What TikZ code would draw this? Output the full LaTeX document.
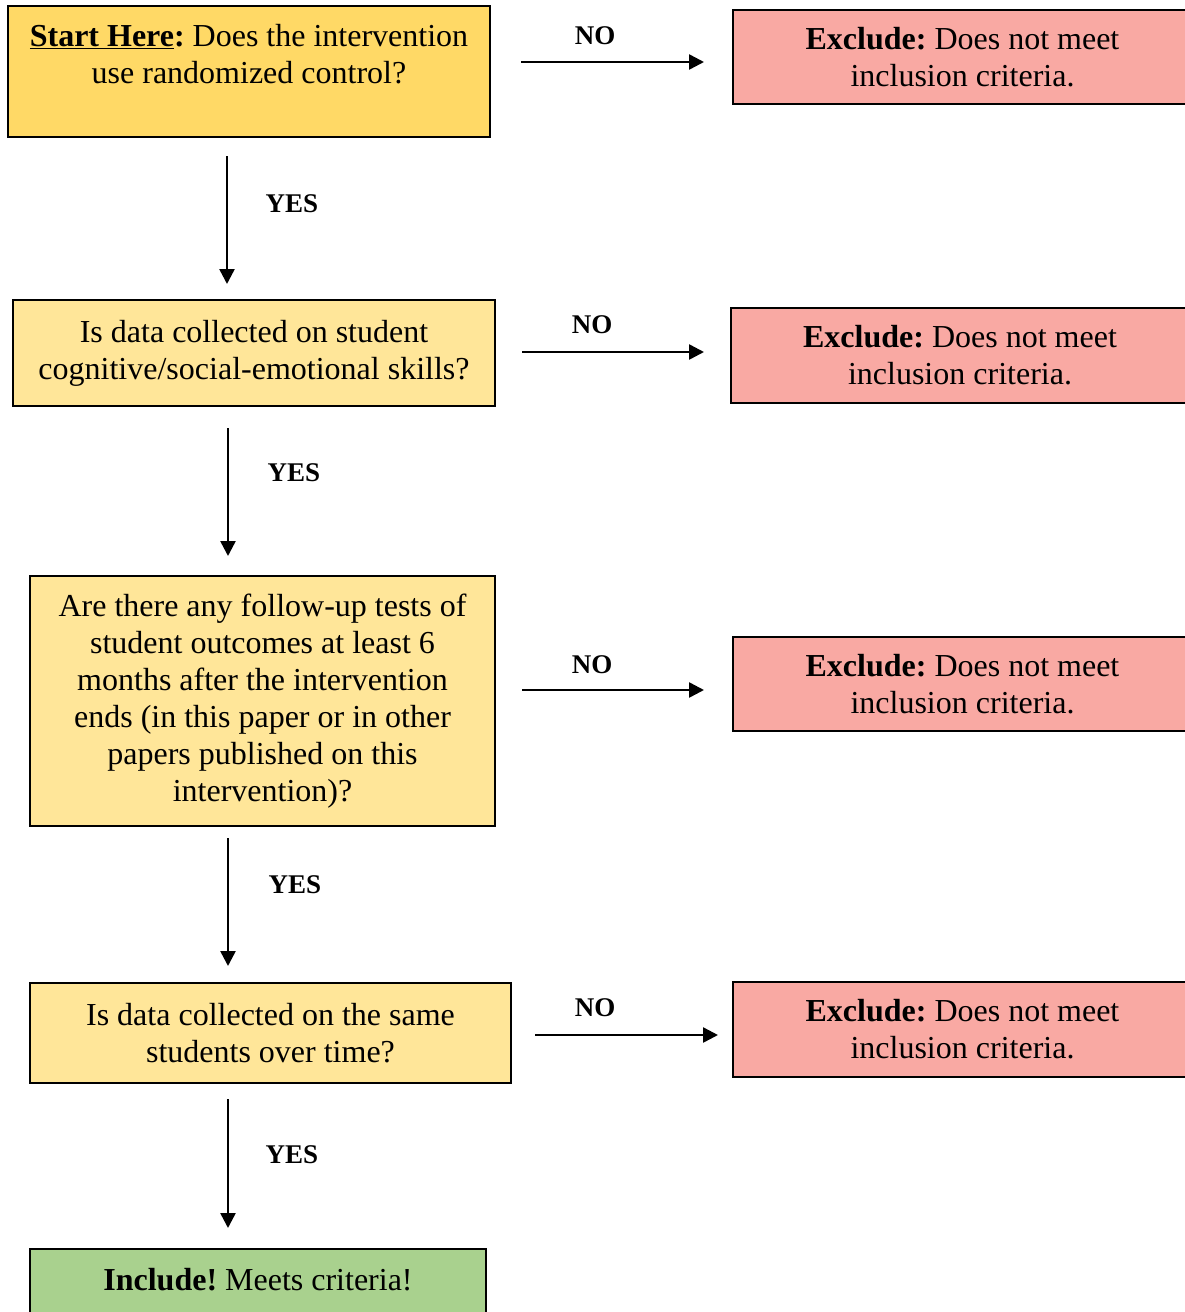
\documentclass[tikz,border=0pt]{standalone}
\usepackage{fontspec}
\setmainfont{Liberation Serif}
\usetikzlibrary{arrows.meta}
\frenchspacing
\definecolor{goldA}{HTML}{FFD966}
\definecolor{goldB}{HTML}{FFE699}
\definecolor{pinkX}{HTML}{F9A9A3}
\definecolor{greenI}{HTML}{A9D18E}
\newcommand{\fsz}{\fontsize{32}{37}\selectfont}
\newcommand{\lsz}{\fontsize{27}{37}\selectfont\bfseries}
\tikzset{
  box/.style={draw=black, line width=1.7pt, inner sep=0pt, align=center, font=\fsz},
  qbox/.style={box, fill=goldB},
  xbox/.style={box, fill=pinkX, minimum width=459pt},
  txt/.style={inner sep=0pt, align=center, font=\fsz},
  lbl/.style={inner sep=0pt, font=\lsz},
  arr/.style={line width=2.5pt, -{Triangle[length=15pt,width=15pt]}}
}
\begin{document}
\begin{tikzpicture}[x=1pt,y=-1pt]
\useasboundingbox (0,0) rectangle (1185,1312);
\clip (0,0) rectangle (1185,1312);
% question boxes
\node[box, fill=goldA, minimum width=482pt, minimum height=131pt] (q1) at (249,71.5) {};
\node[txt] (q1t) at (249,54) {\underline{\textbf{Start Here}}\textbf{:} Does the intervention\\use randomized control?};
\node[qbox, minimum width=482pt, minimum height=106pt] (q2) at (254,353)
  {Is data collected on student\\cognitive/social-emotional skills?};
\node[qbox, minimum width=465pt, minimum height=250pt] (q3) at (262.5,701)
  {Are there any follow-up tests of\\student outcomes at least 6\\months after the intervention\\ends (in this paper or in other\\papers published on this\\intervention)?};
\node[qbox, minimum width=481pt, minimum height=100pt] (q4) at (270.5,1033)
  {Is data collected on the same\\students over time?};
\node[box, fill=greenI, minimum width=456pt, minimum height=82pt] (inc) at (258,1290) {};
\node[txt] (inct) at (258,1280) {\textbf{Include!} Meets criteria!};
% exclude boxes
\node[xbox, minimum height=94pt] (x1) at (962.5,57) {\textbf{Exclude:} Does not meet\\inclusion criteria.};
\node[xbox, minimum width=458pt, minimum height=95pt] (x2) at (960,355.5) {\textbf{Exclude:} Does not meet\\inclusion criteria.};
\node[xbox, minimum height=94pt] (x3) at (962.5,684) {\textbf{Exclude:} Does not meet\\inclusion criteria.};
\node[xbox, minimum height=95pt] (x4) at (962.5,1029.5) {\textbf{Exclude:} Does not meet\\inclusion criteria.};
% arrow end points
\coordinate (n1a) at (521,62);   \coordinate (n1b) at (704,62);
\coordinate (n2a) at (522,352);  \coordinate (n2b) at (704,352);
\coordinate (n3a) at (522,690);  \coordinate (n3b) at (704,690);
\coordinate (n4a) at (535,1035); \coordinate (n4b) at (718,1035);
\coordinate (y1a) at (227,156);  \coordinate (y1b) at (227,284);
\coordinate (y2a) at (228,428);  \coordinate (y2b) at (228,556);
\coordinate (y3a) at (228,838);  \coordinate (y3b) at (228,966);
\coordinate (y4a) at (228,1099); \coordinate (y4b) at (228,1228);
\draw[arr] (n1a) -- (n1b);
\draw[arr] (n2a) -- (n2b);
\draw[arr] (n3a) -- (n3b);
\draw[arr] (n4a) -- (n4b);
\draw[arr] (y1a) -- (y1b);
\draw[arr] (y2a) -- (y2b);
\draw[arr] (y3a) -- (y3b);
\draw[arr] (y4a) -- (y4b);
% labels
\node[lbl] (ln1) at (595,36) {NO};
\node[lbl] (ln2) at (592,325) {NO};
\node[lbl] (ln3) at (592,665) {NO};
\node[lbl] (ln4) at (595,1008) {NO};
\node[lbl] (ly1) at (292,204) {YES};
\node[lbl] (ly2) at (294,473) {YES};
\node[lbl] (ly3) at (295,885) {YES};
\node[lbl] (ly4) at (292,1155) {YES};
\end{tikzpicture}
\end{document}
